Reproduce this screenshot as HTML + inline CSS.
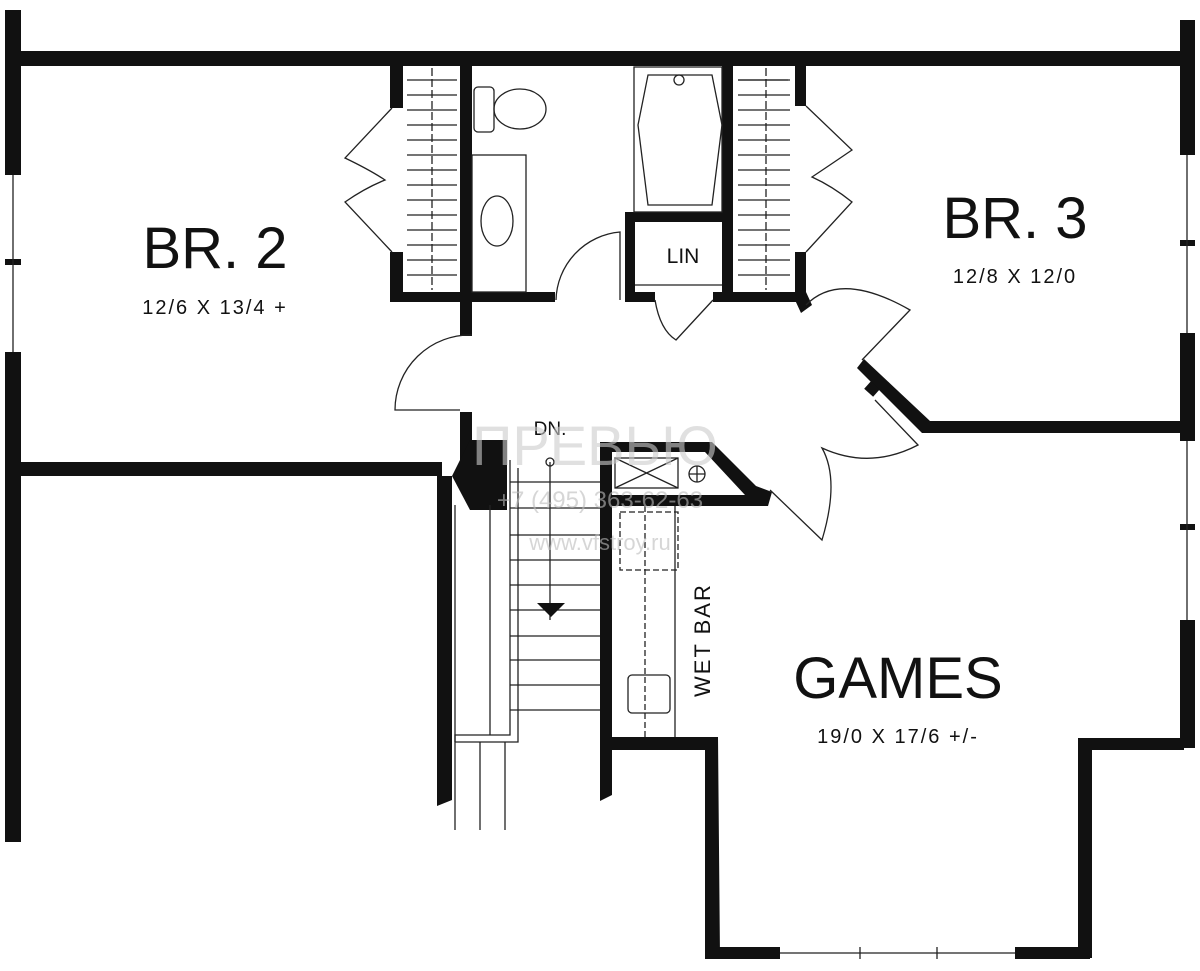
<!DOCTYPE html>
<html><head><meta charset="utf-8"><style>
html,body{margin:0;padding:0;background:#fff}
svg{display:block}
text{font-family:"Liberation Sans",sans-serif;fill:#111}
</style></head><body>
<svg width="1200" height="971" viewBox="0 0 1200 971" xmlns="http://www.w3.org/2000/svg">
<rect width="1200" height="971" fill="#fff"/>
<g fill="#111">
<!-- top wall -->
<rect x="14" y="51" width="1170" height="15"/>
<!-- left outer wall -->
<rect x="5" y="10" width="16" height="165"/>
<rect x="5" y="352" width="16" height="490"/>
<rect x="5" y="259" width="16" height="6"/>
<!-- right outer wall -->
<rect x="1180" y="20" width="15" height="135"/>
<rect x="1180" y="333" width="15" height="108"/>
<rect x="1180" y="240" width="15" height="6"/>
<rect x="1180" y="524" width="15" height="6"/>
<rect x="1180" y="620" width="15" height="128"/>
<!-- BR2 bottom -->
<rect x="14" y="462" width="428" height="14"/>
<!-- closet 1 -->
<rect x="390" y="66" width="13" height="42"/>
<rect x="390" y="252" width="13" height="50"/>
<rect x="390" y="292" width="165" height="10"/>
<rect x="460" y="66" width="12" height="270"/>
<rect x="460" y="412" width="12" height="50"/>
<!-- LIN / closet2 -->
<rect x="625" y="212" width="10" height="90"/>
<rect x="625" y="212" width="100" height="10"/>
<rect x="625" y="292" width="30" height="10"/>
<rect x="713" y="292" width="92" height="10"/>
<rect x="722" y="66" width="11" height="236"/>
<rect x="795" y="66" width="11" height="40"/>
<rect x="795" y="252" width="11" height="50"/>
<polygon points="795,300 806,292 812,305 801,313"/>
<!-- BR3 bottom -->
<polygon points="857,368 864,359 930,421 1184,421 1184,433 922,433"/>
<rect x="866" y="384" width="12" height="10" transform="rotate(42 872 389)"/>
<!-- stair walls -->
<polygon points="437,476 452,476 452,800 437,806"/>
<polygon points="470,440 507,440 507,510 470,510 452,476"/>
<polygon points="600,442 612,442 612,795 600,801"/>
<polygon points="600,442 712,442 756,486 772,492 768,506 600,506 600,495 745,495 705,452 600,452"/>
<!-- games walls -->
<polygon points="612,737 718,737 720,958 705,958 705,750 612,750"/>
<rect x="705" y="947" width="75" height="12"/>
<rect x="1015" y="947" width="75" height="12"/>
<rect x="1078" y="738" width="14" height="220"/>
<rect x="1078" y="738" width="106" height="12"/>
</g>
<g fill="none" stroke="#222" stroke-width="1.3">
<!-- window lines -->
<line x1="13" y1="175" x2="13" y2="352"/>
<line x1="1187" y1="155" x2="1187" y2="333"/>
<line x1="1187" y1="441" x2="1187" y2="620"/>
<line x1="780" y1="953" x2="1015" y2="953"/>
<line x1="860" y1="947" x2="860" y2="959"/><line x1="937" y1="947" x2="937" y2="959"/>
<!-- closet1 rods -->
<line x1="432" y1="68" x2="432" y2="290" stroke-dasharray="8 3"/>
<path d="M407 80h50M407 95h50M407 110h50M407 125h50M407 140h50M407 155h50M407 170h50M407 185h50M407 200h50M407 215h50M407 230h50M407 245h50M407 260h50M407 275h50"/>
<path d="M760 80h50" transform="translate(-22 0)"/>
<line x1="766" y1="68" x2="766" y2="290" stroke-dasharray="8 3"/>
<path d="M738 80h52M738 95h52M738 110h52M738 125h52M738 140h52M738 155h52M738 170h52M738 185h52M738 200h52M738 215h52M738 230h52M738 245h52M738 260h52M738 275h52"/>
<!-- bifold doors -->
<path d="M392 108 L345 158 Q370 170 385 180 Q365 188 345 202 L392 252"/>
<path d="M806 106 L852 150 Q830 165 812 177 Q832 186 852 202 L806 252"/>
<!-- toilet -->
<rect x="474" y="87" width="20" height="45" rx="4"/>
<ellipse cx="520" cy="109" rx="26" ry="20"/>
<!-- vanity -->
<rect x="472" y="155" width="54" height="137"/>
<ellipse cx="497" cy="221" rx="16" ry="25"/>
<!-- tub -->
<rect x="634" y="67" width="88" height="145"/>
<path d="M648 75 H712 L722 125 L712 205 H648 L638 125 Z"/>
<circle cx="679" cy="80" r="5"/>
<!-- LIN box bottom -->
<line x1="635" y1="285" x2="722" y2="285"/>
<!-- doors -->
<path d="M556 300 A70 70 0 0 1 620 232 L620 300"/>
<path d="M472 335 A75 75 0 0 0 395 410 H460"/>
<path d="M655 300 Q660 330 676 340 L713 300"/>
<path d="M806 305 Q840 270 910 310 L862 360"/>
<path d="M875 400 L918 445 Q870 470 822 448 Q840 480 822 540 L770 490"/>
<!-- stairs -->
<path d="M510 460 V735 H455 V830 M518 468 V742 H455"/>
<path d="M455 505 V742 M490 505 V735"/>
<path d="M510 482h90M510 508h90M510 535h90M510 560h90M510 585h90M510 610h90M510 636h90M510 660h90M510 685h90M510 710h90"/>
<line x1="550" y1="462" x2="550" y2="620"/>
<circle cx="550" cy="462" r="4"/>
<line x1="480" y1="742" x2="480" y2="830"/><line x1="505" y1="742" x2="505" y2="830"/>
<!-- wet bar -->
<rect x="615" y="458" width="63" height="30"/>
<path d="M615 458 L678 488 M678 458 L615 488"/>
<circle cx="697" cy="474" r="8"/><path d="M689 474h16M697 466v16"/>
<line x1="675" y1="506" x2="675" y2="737"/>
<rect x="620" y="512" width="58" height="58" stroke-dasharray="6 3"/>
<line x1="645" y1="506" x2="645" y2="737" stroke-dasharray="6 3"/>
<rect x="628" y="675" width="42" height="38" rx="4"/>
</g>
<polygon points="537,603 565,603 551,617" fill="#111"/>
<!-- labels -->
<text x="215" y="268" font-size="58" text-anchor="middle" font-family="Liberation Serif">BR. 2</text>
<text x="215" y="314" font-size="20" text-anchor="middle" letter-spacing="2">12/6  X  13/4  +</text>
<text x="1015" y="238" font-size="58" text-anchor="middle" font-family="Liberation Serif">BR. 3</text>
<text x="1015" y="283" font-size="20" text-anchor="middle" letter-spacing="2">12/8  X  12/0</text>
<text x="898" y="698" font-size="58" text-anchor="middle" font-family="Liberation Serif">GAMES</text>
<text x="898" y="743" font-size="20" text-anchor="middle" letter-spacing="2">19/0  X  17/6  +/-</text>
<text x="683" y="263" font-size="21" text-anchor="middle">LIN</text>
<text x="550" y="435" font-size="19" text-anchor="middle">DN.</text>
<text transform="translate(710 697) rotate(-90)" font-size="22" letter-spacing="2">WET BAR</text>
<!-- faint watermark -->
<text x="595" y="465" font-size="56" text-anchor="middle" fill="#ccc" style="fill:#ccc;opacity:0.6" font-family="Liberation Serif">ПРЕВЬЮ</text>
<text x="600" y="508" font-size="24" text-anchor="middle" style="fill:#bbb;opacity:0.6" font-family="Liberation Serif">+7 (495) 363-62-63</text>
<text x="600" y="550" font-size="22" text-anchor="middle" style="fill:#bbb;opacity:0.6" font-family="Liberation Serif">www.vfstroy.ru</text>
</svg>
</body></html>
